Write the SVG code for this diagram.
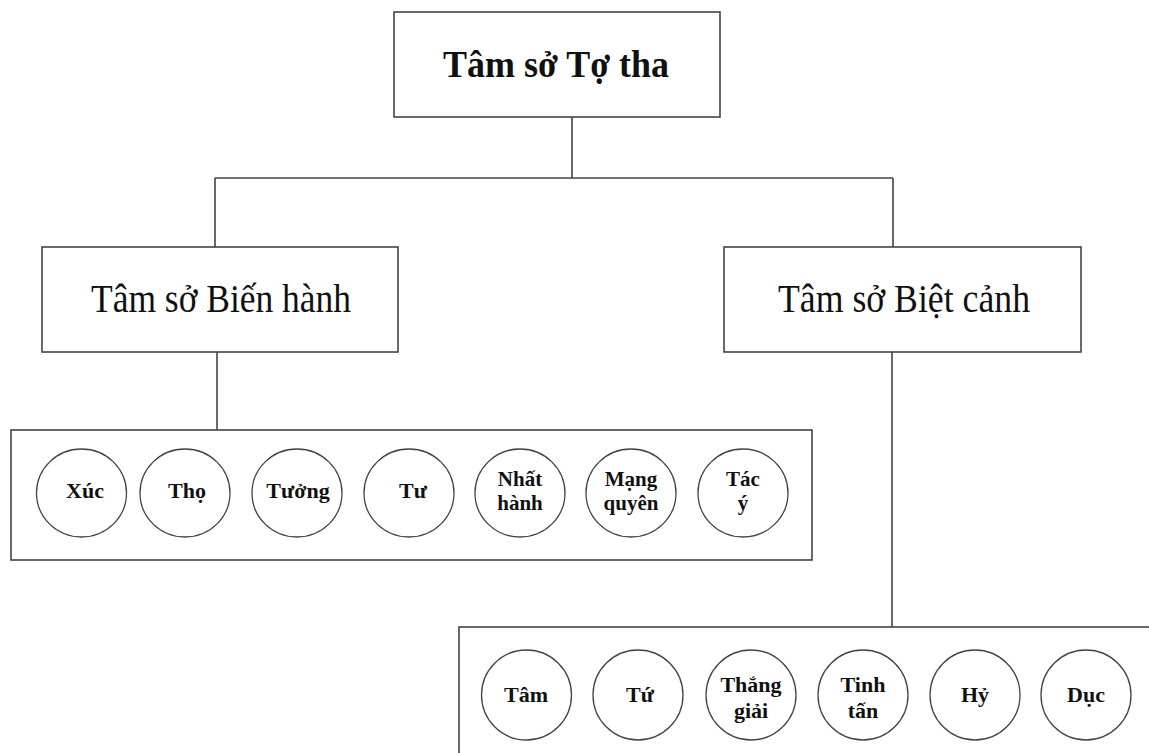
<svg xmlns="http://www.w3.org/2000/svg" width="1149" height="753" viewBox="0 0 1149 753">
<style>
.box{fill:#fff;stroke:#444;stroke-width:1.6}
.circ{fill:#fff;stroke:#444;stroke-width:1.3}
.conn{fill:none;stroke:#444;stroke-width:1.6}
.title{font-family:"Liberation Serif",serif;font-weight:bold;font-size:38px;fill:#111;text-anchor:middle}
.head{font-family:"Liberation Serif",serif;font-size:40px;fill:#111;text-anchor:middle}
.lbl{font-family:"Liberation Serif",serif;font-weight:bold;font-size:22px;fill:#111;text-anchor:middle}
.lbl2{font-family:"Liberation Serif",serif;font-weight:bold;font-size:21px;fill:#111;text-anchor:middle}
</style>
<rect width="1149" height="753" fill="#fff"/>
<g id="connectors">
<path class="conn" d="M572 117V178M215 178H893M215 178V247M893 178V247"/>
<path class="conn" d="M217 352V430"/>
<path class="conn" d="M892 352V627"/>
</g>
<g id="root">
<rect class="box" x="394" y="12" width="326" height="105"/>
<text class="title" x="556" y="77" textLength="226" lengthAdjust="spacingAndGlyphs">Tâm sở Tợ tha</text>
</g>
<g id="bien-hanh">
<rect class="box" x="42" y="247" width="356" height="105"/>
<text class="head" x="221" y="312" textLength="260" lengthAdjust="spacingAndGlyphs">Tâm sở Biến hành</text>
</g>
<g id="biet-canh">
<rect class="box" x="724" y="247" width="357" height="105"/>
<text class="head" x="904" y="312" textLength="252" lengthAdjust="spacingAndGlyphs">Tâm sở Biệt cảnh</text>
</g>
<g id="panel-bien-hanh">
<rect class="box" x="11" y="430" width="801" height="130"/>
</g>
<g id="xuc"><ellipse class="circ" cx="81.5" cy="493" rx="45" ry="44"/><text class="lbl" x="85" y="498">Xúc</text></g>
<g id="tho"><ellipse class="circ" cx="185" cy="493" rx="45" ry="44"/><text class="lbl" x="187" y="498">Thọ</text></g>
<g id="tuong"><ellipse class="circ" cx="297" cy="493" rx="45" ry="44"/><text class="lbl" x="298" y="498">Tưởng</text></g>
<g id="tu"><ellipse class="circ" cx="409" cy="493" rx="45" ry="44"/><text class="lbl" x="413" y="498">Tư</text></g>
<g id="nhat-hanh"><ellipse class="circ" cx="520" cy="493" rx="45" ry="44"/><text class="lbl2" x="520" y="486">Nhất</text><text class="lbl2" x="520" y="510">hành</text></g>
<g id="mang-quyen"><ellipse class="circ" cx="631" cy="493" rx="45" ry="44"/><text class="lbl2" x="631" y="486">Mạng</text><text class="lbl2" x="631" y="510">quyên</text></g>
<g id="tac-y"><ellipse class="circ" cx="743" cy="493" rx="45" ry="44"/><text class="lbl2" x="743" y="486">Tác</text><text class="lbl2" x="743" y="510">ý</text></g>
<g id="panel-biet-canh">
<rect class="box" x="459" y="627" width="700" height="140"/>
</g>
<g id="tam"><ellipse class="circ" cx="526.5" cy="695" rx="45" ry="45"/><text class="lbl" x="526" y="702">Tâm</text></g>
<g id="tuu"><ellipse class="circ" cx="638" cy="695" rx="45" ry="45"/><text class="lbl" x="640" y="702">Tứ</text></g>
<g id="thang-giai"><ellipse class="circ" cx="751" cy="695" rx="45" ry="45"/><text class="lbl" x="751" y="692">Thắng</text><text class="lbl" x="751" y="718">giải</text></g>
<g id="tinh-tan"><ellipse class="circ" cx="863" cy="695" rx="45" ry="45"/><text class="lbl" x="863" y="692">Tinh</text><text class="lbl" x="863" y="718">tấn</text></g>
<g id="hy"><ellipse class="circ" cx="975" cy="695" rx="45" ry="45"/><text class="lbl" x="975" y="702">Hỷ</text></g>
<g id="duc"><ellipse class="circ" cx="1086" cy="695" rx="45" ry="45"/><text class="lbl" x="1086" y="702">Dục</text></g>
</svg>
